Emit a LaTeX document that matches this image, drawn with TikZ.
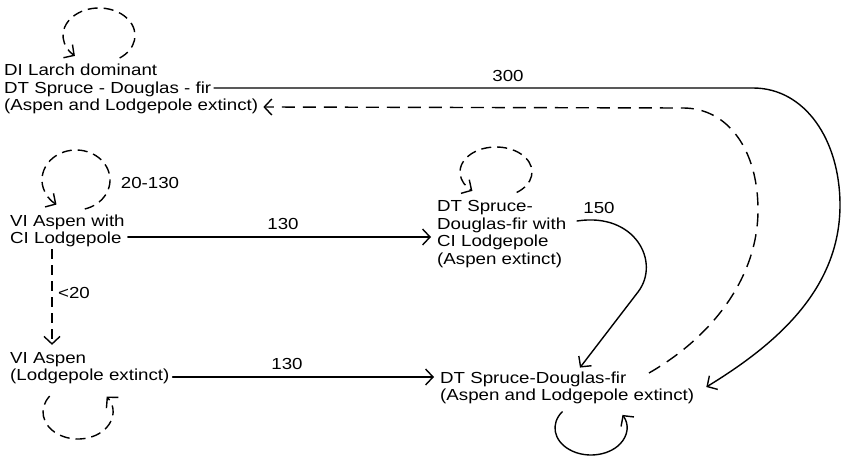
\documentclass[tikz,border=0pt]{standalone}
\usepackage{fontspec}
\setmainfont[FakeStretch=1.17]{Liberation Sans}
\usetikzlibrary{arrows.meta,calc}
\begin{document}
\begin{tikzpicture}[x=1pt,y=-1pt,
  st/.style={align=left, anchor=west, inner sep=0pt, font=\fontsize{16}{17.5}\selectfont},
  lbl/.style={inner sep=0pt, font=\fontsize{16}{17.5}\selectfont},
  ln/.style={line width=1.4pt, line cap=round},
  dsh/.style={ln, line cap=butt, dash pattern=on 10pt off 6pt},
  dshl/.style={ln, line cap=butt, dash pattern=on 13pt off 8pt},
  arr/.style={-{Straight Barb[length=7.5pt,width=16pt,line width=1.4pt]}}]
\useasboundingbox (0,0) rectangle (847,457);
% state nodes
\node[st] (A) at (4,89) {DI Larch dominant\\DT Spruce - Douglas - fir\\(Aspen and Lodgepole extinct)};
\node[st] (B) at (10,231) {VI Aspen with\\CI Lodgepole};
\node[st] (C) at (437,234) {DT Spruce-\\Douglas-fir with\\CI Lodgepole\\(Aspen extinct)};
\node[st] (D) at (10,368) {VI Aspen\\(Lodgepole extinct)};
\node[st] (E) at (440,388) {DT Spruce-Douglas-fir\\(Aspen and Lodgepole extinct)};
% labels
\node[lbl] (l300) at (508,76) {300};
\node[lbl] (l2030) at (150,183) {20-130};
\node[lbl] (l130a) at (283,224) {130};
\node[lbl] (l150) at (599,208) {150};
\node[lbl] (l20) at (74,293) {<20};
\node[lbl] (l130b) at (287,364) {130};
% free ends
\coordinate (a2) at (214,88);
\coordinate (e1) at (649,373);
\coordinate (c2) at (577,221);
% loops
\draw[dsh,arr] (99,35.5) ++(55:36 and 27.5) arc[start angle=55,end angle=-228,x radius=36,y radius=27.5];
\draw[dsh,arr] (76,180) ++(75:34 and 30) arc[start angle=75,end angle=-235,x radius=34,y radius=30];
\draw[dsh,arr] (496,172) ++(55:36 and 25) arc[start angle=55,end angle=-229,x radius=36,y radius=25];
\draw[dsh,arr] (78,412) ++(216:35 and 27) arc[start angle=216,end angle=-35,x radius=35,y radius=27];
\draw[ln,arr] (591,428) ++(217:36 and 27) arc[start angle=217,end angle=-29,x radius=36,y radius=27];
% transitions
\draw[ln,arr] (a2) -- (753,88) .. controls (805,88) and (840,140) .. (840,205) .. controls (840,290) and (775,345) .. ($(E.east)+(12,-1)$);
\draw[dshl,arr] (e1) .. controls (715,335) and (758,275) .. (758,210) .. controls (758,150) and (728,108) .. (683,108) -- ($(A.east)+(5,18)$);
\draw[ln,arr] (B.east |- 0,237) ++(3,0) -- ($(C.west)+(-6,3)$);
\draw[ln,arr] (c2) .. controls (635,212) and (661,262) .. (638,292) -- ($(E.north west)+(140,-4)$);
\draw[dsh,arr] ($(B.south west)+(42,2)$) -- ($(D.north west)+(42,-7)$);
\draw[ln,arr] ($(D.east)+(3,9)$) -- ($(E.west)+(-6,-11)$);
\end{tikzpicture}
\end{document}
